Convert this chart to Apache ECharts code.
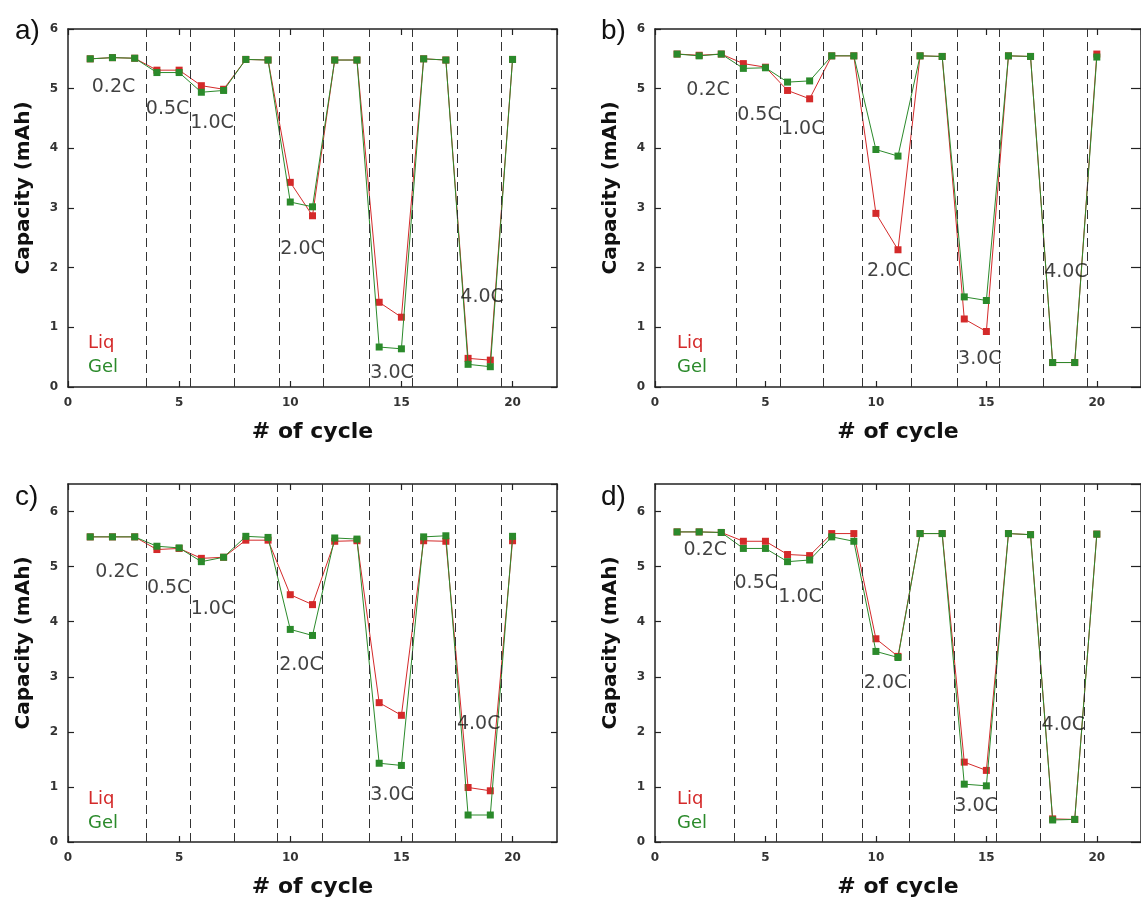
<!DOCTYPE html>
<html>
<head>
<meta charset="utf-8">
<script src="https://cdn.jsdelivr.net/npm/echarts@6/dist/echarts.min.js"></script>
<style>
  html, body { margin: 0; padding: 0; background: #fff; }
  #chart { width: 1141px; height: 905px; }
</style>
</head>
<body>
<div id="chart"></div>
<script>
// cycle numbers, same for every panel
const cycles = [1, 2, 3, 4, 5, 6, 7, 8, 9, 10, 11, 12, 13, 14, 15, 16, 17, 18, 19, 20];
const rateNames = ['0.2C', '0.5C', '1.0C', '2.0C', '3.0C', '4.0C'];

// a)
const liqA = [5.50, 5.52, 5.51, 5.31, 5.31, 5.05, 4.99, 5.49, 5.48, 3.43, 2.87, 5.48, 5.48, 1.42, 1.17, 5.50, 5.48, 0.48, 0.45, 5.49];
const gelA = [5.50, 5.52, 5.51, 5.27, 5.27, 4.94, 4.97, 5.49, 5.48, 3.10, 3.02, 5.48, 5.48, 0.67, 0.64, 5.50, 5.48, 0.38, 0.34, 5.49];
const dashA = [3.5, 5.5, 7.5, 9.5, 11.5, 13.55, 15.5, 17.5, 19.5];
const rateXA = [1.07, 3.5, 5.5, 9.55, 13.6, 17.65];
const rateYA = [5.02, 4.65, 4.43, 2.31, 0.24, 1.50];

// b)
const liqB = [5.58, 5.56, 5.58, 5.42, 5.36, 4.97, 4.83, 5.55, 5.55, 2.91, 2.30, 5.55, 5.54, 1.14, 0.93, 5.55, 5.54, 0.41, 0.41, 5.58];
const gelB = [5.58, 5.55, 5.58, 5.34, 5.35, 5.11, 5.13, 5.55, 5.55, 3.98, 3.87, 5.55, 5.54, 1.51, 1.45, 5.55, 5.54, 0.41, 0.41, 5.53];
const dashB = [3.7, 5.67, 7.62, 9.39, 11.62, 13.67, 15.59, 17.58, 19.58];
const rateXB = [1.42, 3.72, 5.7, 9.6, 13.72, 17.62];
const rateYB = [4.97, 4.55, 4.32, 1.94, 0.46, 1.92];

// c)
const liqC = [5.54, 5.54, 5.54, 5.31, 5.33, 5.15, 5.17, 5.48, 5.48, 4.49, 4.31, 5.46, 5.47, 2.53, 2.30, 5.47, 5.46, 0.99, 0.93, 5.47];
const gelC = [5.54, 5.54, 5.54, 5.37, 5.34, 5.09, 5.17, 5.55, 5.53, 3.86, 3.75, 5.52, 5.50, 1.43, 1.39, 5.54, 5.56, 0.49, 0.49, 5.55];
const dashC = [3.5, 5.5, 7.5, 9.42, 11.42, 13.56, 15.5, 17.42, 19.5];
const rateXC = [1.23, 3.55, 5.52, 9.5, 13.6, 17.5];
const rateYC = [4.90, 4.61, 4.23, 3.22, 0.86, 2.14];

// d)
const liqD = [5.63, 5.63, 5.62, 5.46, 5.46, 5.22, 5.20, 5.60, 5.60, 3.69, 3.37, 5.60, 5.60, 1.45, 1.30, 5.60, 5.58, 0.42, 0.41, 5.59];
const gelD = [5.63, 5.63, 5.62, 5.33, 5.33, 5.09, 5.12, 5.54, 5.46, 3.46, 3.35, 5.60, 5.60, 1.05, 1.02, 5.60, 5.58, 0.40, 0.41, 5.59];
const dashD = [3.58, 5.5, 7.58, 9.39, 11.49, 13.53, 15.46, 17.42, 19.43];
const rateXD = [1.29, 3.6, 5.58, 9.45, 13.55, 17.5];
const rateYD = [5.30, 4.70, 4.45, 2.88, 0.65, 2.13];

const RED = '#d42a2a';
const GREEN = '#2b8a2b';
const INK = '#222';

const panels = [
  { tag: 'a)', liq: liqA, gel: gelA, dash: dashA, rx: rateXA, ry: rateYA, ymax: 6,
    grid: { left: 68, top: 29, width: 489, height: 358 }, tagPos: [10, 12], legPos: [78, 329], rtick: 6 },
  { tag: 'b)', liq: liqB, gel: gelB, dash: dashB, rx: rateXB, ry: rateYB, ymax: 6,
    grid: { left: 655, top: 29, width: 491, height: 358 }, tagPos: [596, 12], legPos: [667, 329], rtick: 10 },
  { tag: 'c)', liq: liqC, gel: gelC, dash: dashC, rx: rateXC, ry: rateYC, ymax: 6.5,
    grid: { left: 68, top: 484, width: 489, height: 358 }, tagPos: [10, 478], legPos: [78, 785], rtick: 6 },
  { tag: 'd)', liq: liqD, gel: gelD, dash: dashD, rx: rateXD, ry: rateYD, ymax: 6.5,
    grid: { left: 655, top: 484, width: 491, height: 358 }, tagPos: [596, 478], legPos: [667, 785], rtick: 10 }
];

const axisLine = { show: true, onZero: false, lineStyle: { color: INK, width: 1.5 } };
const tick = { show: true, inside: true, length: 6, lineStyle: { color: INK, width: 1.2 } };
const tickFont = { color: '#333', fontSize: 12, fontWeight: 'bold', fontFamily: 'DejaVu Sans' };

const option = {
  backgroundColor: '#fff',
  animation: false,
  title: [], legend: [], grid: [], xAxis: [], yAxis: [], series: []
};

panels.forEach((p, i) => {
  option.grid.push(p.grid);
  option.title.push({
    text: p.tag, left: p.tagPos[0], top: p.tagPos[1],
    textStyle: { fontSize: 28, fontWeight: 'normal', color: '#111', fontFamily: 'Liberation Sans' }
  });
  option.legend.push({
    orient: 'vertical', left: p.legPos[0], top: p.legPos[1],
    icon: 'rect', itemWidth: 0, itemHeight: 14, itemGap: 6, selectedMode: false,
    textStyle: { fontSize: 18, fontFamily: 'DejaVu Sans' },
    data: [
      { name: 'Liq', textStyle: { color: RED } },
      { name: 'Gel', textStyle: { color: GREEN } }
    ]
  });
  // bottom and top x axes
  option.xAxis.push({
    type: 'value', gridIndex: i, position: 'bottom', min: 0, max: 22, interval: 5,
    name: '# of cycle', nameLocation: 'middle', nameGap: 34,
    nameTextStyle: { fontSize: 22, fontWeight: 'bold', color: '#111', fontFamily: 'DejaVu Sans' },
    axisLine, axisTick: tick, splitLine: { show: false },
    axisLabel: Object.assign({ margin: 10, showMaxLabel: false }, tickFont)
  });
  option.xAxis.push({
    type: 'value', gridIndex: i, position: 'top', min: 0, max: 22, interval: 5,
    axisLine, axisTick: tick, splitLine: { show: false }, axisLabel: { show: false }
  });
  // left and right y axes
  option.yAxis.push({
    type: 'value', gridIndex: i, position: 'left', min: 0, max: p.ymax, interval: 1,
    name: 'Capacity (mAh)', nameLocation: 'middle', nameGap: 34, nameRotate: 90,
    nameTextStyle: { fontSize: 20, fontWeight: 'bold', color: '#111', fontFamily: 'DejaVu Sans', padding: [0, 0, 0, 40] },
    axisLine, axisTick: tick, splitLine: { show: false },
    axisLabel: Object.assign({ margin: 10, showMaxLabel: p.ymax === 6 }, tickFont)
  });
  option.yAxis.push({
    type: 'value', gridIndex: i, position: 'right', min: 0, max: p.ymax, interval: 1,
    axisLine, splitLine: { show: false }, axisLabel: { show: false },
    axisTick: { show: true, inside: true, length: p.rtick, lineStyle: { color: INK, width: 1.2 } }
  });

  const xi = i * 2, yi = i * 2;
  option.series.push({
    name: 'Liq', type: 'line', xAxisIndex: xi, yAxisIndex: yi,
    data: cycles.map((c, k) => [c, p.liq[k]]),
    symbol: 'rect', symbolSize: 7,
    lineStyle: { color: RED, width: 1 }, itemStyle: { color: RED },
    markLine: {
      silent: true, symbol: 'none', label: { show: false },
      lineStyle: { color: '#333', type: [9, 5], width: 1 },
      data: p.dash.map(v => ({ xAxis: v }))
    },
    z: 3
  });
  option.series.push({
    name: 'Gel', type: 'line', xAxisIndex: xi, yAxisIndex: yi,
    data: cycles.map((c, k) => [c, p.gel[k]]),
    symbol: 'rect', symbolSize: 7,
    lineStyle: { color: GREEN, width: 1 }, itemStyle: { color: GREEN },
    z: 4
  });
  option.series.push({
    name: 'rates', type: 'scatter', xAxisIndex: xi, yAxisIndex: yi, silent: true,
    symbolSize: 0,
    data: p.rx.map((x, k) => [x, p.ry[k], rateNames[k]]),
    label: {
      show: true, position: 'right', distance: 0,
      formatter: d => d.data[2],
      fontSize: 19, color: '#111', fontFamily: 'DejaVu Sans'
    },
    z: 5
  });
});

const chart = echarts.init(document.getElementById('chart'));
chart.setOption(option);
</script>
</body>
</html>
